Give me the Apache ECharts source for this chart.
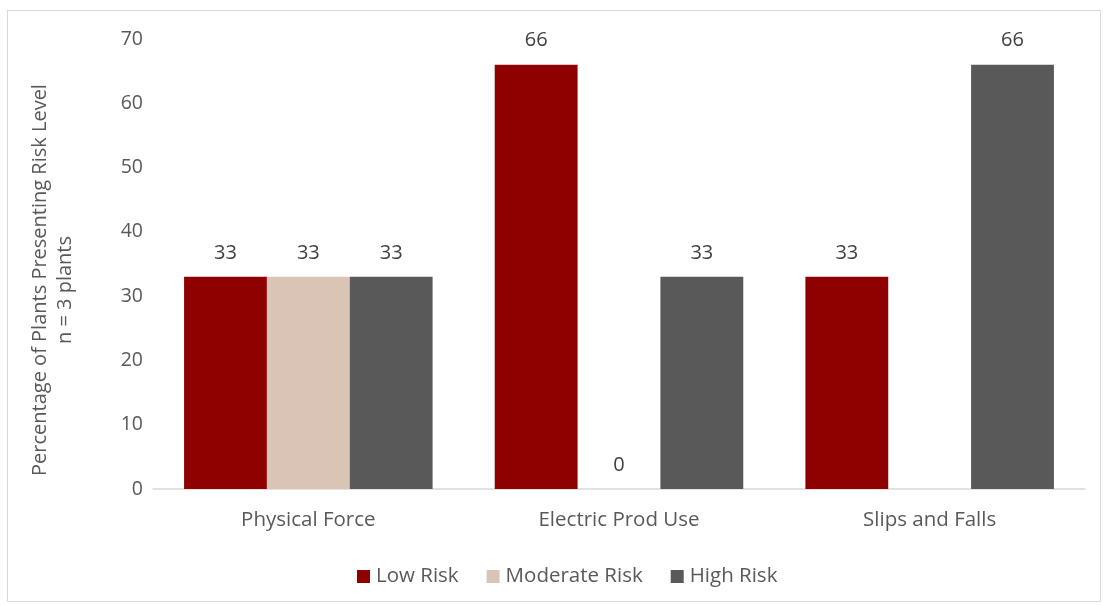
<!DOCTYPE html>
<html>
<head>
<meta charset="utf-8">
<script src="https://cdn.jsdelivr.net/npm/echarts@6/dist/echarts.min.js"></script>
<style>
  html, body { margin: 0; padding: 0; background: #fff; }
  #frame { position: absolute; left: 7px; top: 10px; width: 1094px; height: 592px; border: 1px solid #d9d9d9; box-sizing: border-box; }
  #chart { position: absolute; left: 0; top: 0; width: 1103px; height: 605px; }
</style>
</head>
<body>
<div id="frame"></div>
<div id="chart"></div>
<script>
const categories = ['Physical Force', 'Electric Prod Use', 'Slips and Falls'];
const lowRisk = [33, 66, 33];
const moderateRisk = [33, 0, null];
const highRisk = [33, 33, 66];
const seriesNames = ['Low Risk', 'Moderate Risk', 'High Risk'];
const yTitleLines = ['Percentage of Plants Presenting Risk Level', 'n = 3 plants'];
const yTicks = { min: 0, max: 70, interval: 10 };

const font = '"Open Sans", "Noto Sans", sans-serif';
const textColor = '#595959';
const colors = ['#8f0000', '#d9c4b5', '#595959'];

function barSeries(name, data, color) {
  return {
    name: name,
    type: 'bar',
    data: data,
    barGap: '0%',
    barCategoryGap: '20%',
    itemStyle: { color: color },
    label: {
      show: true,
      position: 'top',
      distance: 14,
      color: '#404040',
      fontFamily: font,
      fontSize: 20
    }
  };
}

// rotated two-line axis title
function titleLine(text, x, y) {
  return {
    type: 'text',
    x: x,
    y: y,
    rotation: Math.PI / 2,
    style: {
      text: text,
      fill: textColor,
      font: '20px ' + font,
      align: 'center',
      verticalAlign: 'middle'
    }
  };
}

const chart = echarts.init(document.getElementById('chart'), null, { renderer: 'canvas' });
chart.setOption({
  animation: false,
  color: colors,
  textStyle: { fontFamily: font },
  grid: { left: 153, right: 18, top: 39, bottom: 116, containLabel: false },
  legend: {
    top: 561,
    left: 352,
    itemWidth: 13,
    itemHeight: 13,
    itemGap: 28,
    icon: 'rect',
    textStyle: { color: textColor, fontSize: 20.5, fontFamily: font, padding: [0, 0, 0, 1] },
    data: seriesNames
  },
  graphic: [
    titleLine(yTitleLines[0], 40, 280),
    titleLine(yTitleLines[1], 65, 290)
  ],
  xAxis: {
    type: 'category',
    data: categories,
    axisLine: { lineStyle: { color: '#d9d9d9', width: 1.5 } },
    axisTick: { show: false },
    axisLabel: { color: textColor, fontSize: 20.5, fontFamily: font, margin: 21 }
  },
  yAxis: {
    type: 'value',
    min: yTicks.min,
    max: yTicks.max,
    interval: yTicks.interval,
    axisLine: { show: false },
    axisTick: { show: false },
    splitLine: { show: false },
    axisLabel: { color: textColor, fontSize: 19.5, fontFamily: font, margin: 10 }
  },
  series: [
    barSeries(seriesNames[0], lowRisk, colors[0]),
    barSeries(seriesNames[1], moderateRisk, colors[1]),
    barSeries(seriesNames[2], highRisk, colors[2])
  ]
});
</script>
</body>
</html>
